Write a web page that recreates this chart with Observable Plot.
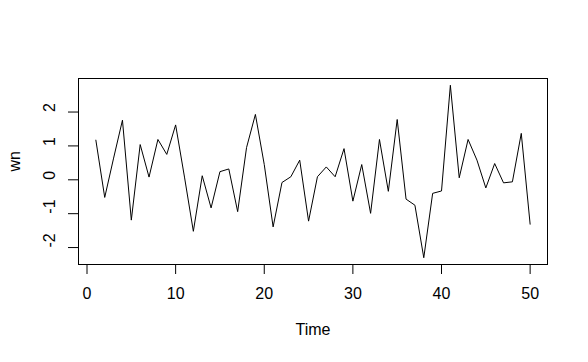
<!DOCTYPE html>
<html>
<head>
<meta charset="utf-8">
<script src="https://cdn.jsdelivr.net/npm/d3@7"></script>
<script src="https://cdn.jsdelivr.net/npm/@observablehq/plot@0.6"></script>
<style>
  html, body { margin: 0; padding: 0; background: white; }
</style>
</head>
<body>
<div id="chart"></div>
<script>
const time = [1,2,3,4,5,6,7,8,9,10,11,12,13,14,15,16,17,18,19,20,21,22,23,24,25,26,27,28,29,30,31,32,33,34,35,36,37,38,39,40,41,42,43,44,45,46,47,48,49,50];
const wn = [1.17,-0.52,0.64,1.76,-1.19,1.04,0.08,1.19,0.75,1.62,0.08,-1.52,0.12,-0.83,0.24,0.32,-0.94,0.95,1.93,0.45,-1.39,-0.08,0.09,0.58,-1.22,0.09,0.38,0.09,0.92,-0.63,0.45,-0.99,1.19,-0.34,1.78,-0.57,-0.75,-2.30,-0.40,-0.33,2.79,0.06,1.19,0.58,-0.24,0.48,-0.09,-0.06,1.37,-1.31];
const xTicks = [0,10,20,30,40,50];
const yTicks = [-2,-1,0,1,2];
const xLabel = "Time";
const yLabel = "wn";

const data = time.map((t, i) => ({t, v: wn[i]}));

const chart = Plot.plot({
  width: 588,
  height: 362,
  marginLeft: 78,
  marginRight: 41,
  marginTop: 78,
  marginBottom: 98,
  x: {domain: [-0.96, 51.96]},
  y: {domain: [-2.5, 2.99]},
  style: {fontFamily: "'Liberation Sans', Arial, sans-serif", fontSize: "16px", background: "white", color: "black"},
  marks: [
    Plot.frame({stroke: "black"}),
    Plot.axisX({ticks: xTicks, tickSize: 10, tickPadding: 13, label: null, fontSize: 16, stroke: "black", fill: "black"}),
    Plot.axisY({ticks: yTicks, tickSize: 10, tickFormat: () => "", label: null, stroke: "black"}),
    Plot.text(yTicks, {y: d => d, text: d => String(d), frameAnchor: "left", dx: -29, rotate: -90, fontSize: 16, fill: "black"}),
    Plot.text([xLabel], {frameAnchor: "bottom", dy: 70, fontSize: 16, fill: "black"}),
    Plot.text([yLabel], {frameAnchor: "left", dx: -64, rotate: -90, fontSize: 16, fill: "black"}),
    Plot.line(data, {x: "t", y: "v", stroke: "black", strokeWidth: 1})
  ]
});
document.getElementById("chart").appendChild(chart);
</script>
</body>
</html>
